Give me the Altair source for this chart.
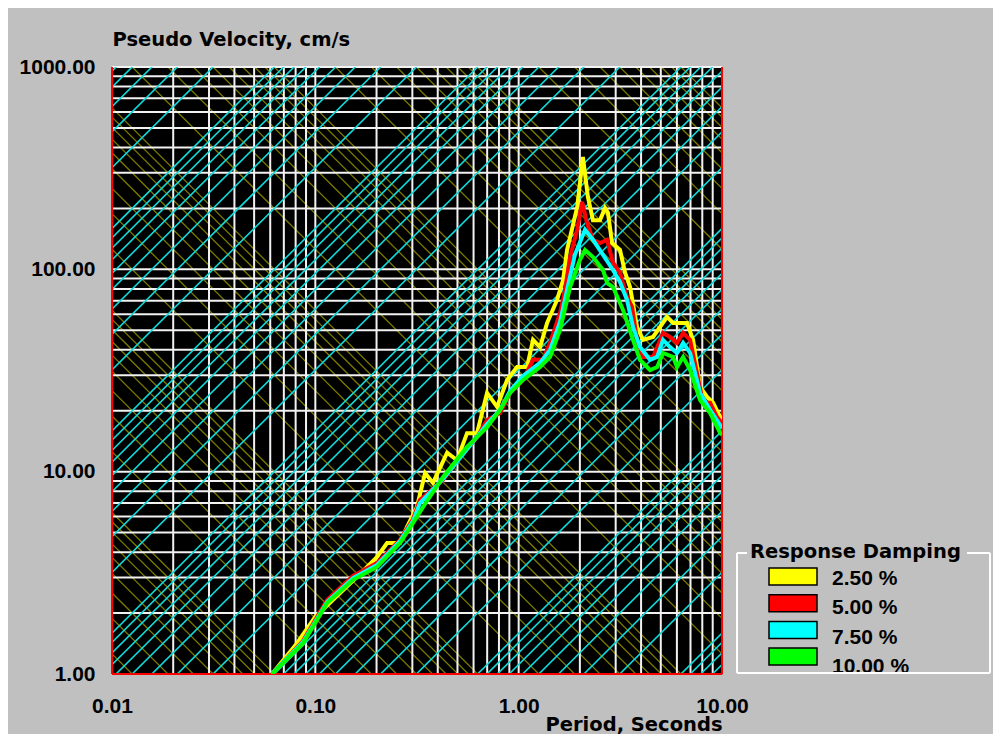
import altair as alt
import pandas as pd

# ---------------- data ----------------
T_25 = [0.0612, 0.0813, 0.0997, 0.1323, 0.1604, 0.2012, 0.2253, 0.261, 0.2825, 0.316,
        0.3465, 0.379, 0.4446, 0.4977, 0.5574, 0.624, 0.699, 0.783, 0.877, 0.982,
        1.10, 1.177, 1.274, 1.38, 1.545, 1.654, 1.73, 1.94, 2.07, 2.19,
        2.32, 2.51, 2.66, 2.75, 2.88, 3.15, 3.34, 3.53, 3.82, 4.09,
        4.58, 5.37, 5.75, 6.22, 6.73, 7.21, 7.80, 8.45, 9.04, 9.80, 10.0]
V_25 = [1.0, 1.42, 1.91, 2.51, 3.02, 3.79, 4.44, 4.44, 5.33, 6.69,
        9.85, 8.80, 12.4, 11.4, 15.5, 15.5, 24.5, 20.9, 28.4, 32.9,
        32.9, 44.8, 41.3, 54.3, 70.6, 88.6, 124.7, 203, 359, 228,
        175, 175, 201, 190, 135, 124.7, 96, 81.8, 51.9, 44.8,
        46.3, 58.2, 54.3, 54.3, 54.3, 44.8, 26.2, 23.4, 21.9, 18.6, 18.0]

T_50 = [0.0612, 0.087, 0.1142, 0.1532, 0.2012, 0.261, 0.3024, 0.327, 0.425, 0.515,
        0.624, 0.699, 0.810, 0.907, 1.051, 1.177, 1.318, 1.427, 1.598, 1.69,
        1.79, 1.94, 2.05, 2.17, 2.32, 2.51, 2.72, 2.91, 3.15, 3.41,
        3.61, 3.82, 4.09, 4.58, 5.13, 5.55, 6.01, 6.44, 6.97, 7.53,
        8.07, 8.74, 9.46, 10.0]
V_50 = [1.0, 1.46, 2.32, 3.05, 3.54, 4.60, 5.84, 7.25, 9.10, 11.8,
        14.8, 18.0, 19.5, 24.5, 28.4, 35.7, 35.7, 43.3, 60.9, 79.1,
        115, 157, 215, 169, 140, 135, 140, 108, 96, 73,
        65.2, 44.8, 36.9, 36.9, 48.5, 46.3, 43.3, 48.5, 44.8, 30.8,
        21.9, 21.9, 18.6, 17.4]

T_75 = [0.0612, 0.087, 0.1142, 0.1532, 0.2012, 0.261, 0.3024, 0.327, 0.425, 0.557,
        0.699, 0.810, 0.907, 1.051, 1.274, 1.427, 1.598, 1.73, 1.89, 2.12,
        2.32, 2.60, 2.91, 3.15, 3.41, 3.65, 3.95, 4.43, 4.80, 5.13,
        5.55, 6.01, 6.44, 6.97, 7.80, 8.74, 10.0]
V_75 = [1.0, 1.44, 2.27, 2.98, 3.46, 4.54, 5.71, 7.0, 9.2, 12.9,
        17.2, 20.2, 25.1, 29.7, 34.5, 40.0, 55.0, 79.1, 118, 157,
        140, 118, 99.3, 86.6, 70.6, 51.9, 41.3, 35.7, 36.9, 44.8,
        41.3, 38.6, 43.3, 38.6, 24.5, 20.2, 16.4]

T_100 = [0.0612, 0.087, 0.1142, 0.1532, 0.2012, 0.261, 0.3024, 0.3387, 0.4249, 0.5574,
         0.699, 0.810, 0.907, 1.051, 1.274, 1.427, 1.598, 1.73, 1.79, 2.0,
         2.12, 2.32, 2.60, 2.72, 2.91, 3.26, 3.65, 3.95, 4.43, 4.80,
         5.13, 5.75, 6.01, 6.44, 6.97, 7.80, 8.74, 9.80, 10.0]
V_100 = [1.0, 1.42, 2.24, 2.92, 3.38, 4.44, 5.58, 6.69, 9.41, 13.25,
         16.6, 20.2, 24.5, 28.4, 32.9, 36.9, 50.2, 70.6, 81.8, 111,
         124.7, 115, 99.3, 85.7, 81.8, 63, 44.8, 35.7, 31.8, 32.9,
         38.6, 36.9, 32.9, 36.9, 31.8, 22.6, 19.5, 15.5, 15.2]

SERIES_LABELS = ["2.50 %", "5.00 %", "7.50 %", "10.00 %"]
SERIES_COLORS = ["#FFFF00", "#FF0000", "#00FFFF", "#00FF00"]
SERIES_T = [T_25, T_50, T_75, T_100]
SERIES_V = [V_25, V_50, V_75, V_100]

X_TICKS = [0.01, 0.1, 1, 10]
Y_TICKS = [1, 10, 100, 1000]
GRID_MULT = [1, 2, 3, 4, 5, 6, 7, 8, 9]
ACC_DECADES = [-1, 0, 1, 2, 3, 4, 5]      # constant-acceleration lines (cm/s^2)
DISP_DECADES = [-4, -3, -2, -1, 0, 1, 2, 3]  # constant-displacement lines (cm)

TWO_PI = 6.283185307

# ---------------- derived tables ----------------
gx = [m * 10 ** d for d in (-2, -1, 0) for m in GRID_MULT if m * 10 ** d != 0.01]
gy = [m * 10 ** d for d in (0, 1, 2) for m in GRID_MULT if m * 10 ** d != 1] + [1000]
grid_x = pd.DataFrame({"gx": gx})
grid_y = pd.DataFrame({"gy": gy})
border_x = pd.DataFrame({"bx": [X_TICKS[0], X_TICKS[-1]]})
border_y = pd.DataFrame({"by": [Y_TICKS[0]]})

T_LO, T_HI = 1e-4, 1e3
acc_rows = []
for d in ACC_DECADES:
    for m in GRID_MULT:
        c = m * 10 ** d / TWO_PI
        acc_rows.append({"t1": T_LO, "v1": c * T_LO, "t2": T_HI, "v2": c * T_HI})
acc_df = pd.DataFrame(acc_rows)

disp_rows = []
for d in DISP_DECADES:
    for m in GRID_MULT:
        c = m * 10 ** d * TWO_PI
        disp_rows.append({"t1": T_LO, "v1": c / T_LO, "t2": T_HI, "v2": c / T_HI})
disp_df = pd.DataFrame(disp_rows)

# ---------------- scales & axes ----------------
xs = alt.Scale(type="log", domain=[X_TICKS[0], X_TICKS[-1]], nice=False)
ys = alt.Scale(type="log", domain=[Y_TICKS[0], Y_TICKS[-1]], nice=False)

X_AXIS = alt.Axis(values=X_TICKS, format=".2f", title="Period, Seconds", grid=False,
                  ticks=False, domain=False, tickSize=0, labelPadding=38,
                  labelBaseline="alphabetic", labelFont="Liberation Sans",
                  labelFontWeight="bold", labelFontSize=21, labelColor="black",
                  labelFlush=False, labelOverlap=False, labelBound=False,
                  titleFont="DejaVu Sans", titleFontWeight="bold", titleFontSize=19.5,
                  titleColor="black", titleX=610, titleY=56, titleAlign="right",
                  titleBaseline="alphabetic")
Y_AXIS = alt.Axis(values=Y_TICKS, format=".2f", title="Pseudo Velocity, cm/s", grid=False,
                  ticks=False, domain=False, tickSize=0, labelPadding=17,
                  labelFont="Liberation Sans", labelFontWeight="bold", labelFontSize=21,
                  labelColor="black", labelFlush=False, labelOverlap=False, labelBound=False,
                  titleFont="DejaVu Sans", titleFontWeight="bold", titleFontSize=19.5,
                  titleColor="black", titleAngle=0, titleX=0, titleY=-22,
                  titleAlign="left", titleBaseline="alphabetic")


def X(f):
    return alt.X(f, type="quantitative", scale=xs, axis=X_AXIS)


def Y(f):
    return alt.Y(f, type="quantitative", scale=ys, axis=Y_AXIS)


layers = []
# olive displacement lines
layers.append(alt.Chart(disp_df).mark_rule(color="#7A7A00", strokeWidth=1.3, clip=True)
              .encode(x=X("t1"), y=Y("v1"), x2="t2", y2="v2"))
# white grid
layers.append(alt.Chart(grid_x).mark_rule(color="#F2F2F2", strokeWidth=2).encode(x=X("gx")))
layers.append(alt.Chart(grid_y).mark_rule(color="#F2F2F2", strokeWidth=2).encode(y=Y("gy")))
# cyan acceleration lines
layers.append(alt.Chart(acc_df).mark_rule(color="#10DADA", strokeWidth=1.6, clip=True)
              .encode(x=X("t1"), y=Y("v1"), x2="t2", y2="v2"))
# red borders
layers.append(alt.Chart(border_x).mark_rule(color="#FF0000", strokeWidth=2).encode(x=X("bx")))
layers.append(alt.Chart(border_y).mark_rule(color="#FF0000", strokeWidth=2).encode(y=Y("by")))

# response curves
for lab, col, tt, vv in zip(SERIES_LABELS, SERIES_COLORS, SERIES_T, SERIES_V):
    assert len(tt) == len(vv)
    df = pd.DataFrame({"T": tt, "V": vv, "i": range(len(tt))})
    layers.append(alt.Chart(df).mark_line(color=col, strokeWidth=4, clip=True,
                                          strokeJoin="miter")
                  .encode(x=X("T"), y=Y("V"), order="i:Q"))

# legend
leg_df = pd.DataFrame({"label": SERIES_LABELS, "color": SERIES_COLORS,
                       "i": range(len(SERIES_LABELS))})
layers.append(alt.Chart(leg_df).mark_rect(stroke="black", strokeWidth=1.5)
              .transform_calculate(y0="501 + 26.7 * datum.i", y1="518 + 26.7 * datum.i")
              .encode(x=alt.value(657), x2=alt.value(705),
                      y=alt.Y("y0:Q", scale=None), y2=alt.Y2("y1:Q"),
                      color=alt.Color("color:N", scale=None)))
layers.append(alt.Chart(leg_df).mark_text(align="left", baseline="alphabetic",
                                          font="Liberation Sans", fontWeight="bold",
                                          fontSize=21, color="black")
              .transform_calculate(yb="518 + 29.3 * datum.i")
              .encode(x=alt.value(720), y=alt.Y("yb:Q", scale=None), text="label:N"))

one = pd.DataFrame({"k": [0]})
FRAME = "#FFFFFF"
layers.append(alt.Chart(one).mark_rule(color=FRAME, strokeWidth=2)
              .encode(x=alt.value(625), y=alt.value(486), y2=alt.value(606)))
layers.append(alt.Chart(one).mark_rule(color=FRAME, strokeWidth=2)
              .encode(x=alt.value(878), y=alt.value(486), y2=alt.value(606)))
layers.append(alt.Chart(one).mark_rule(color=FRAME, strokeWidth=2)
              .encode(x=alt.value(625), x2=alt.value(878), y=alt.value(606)))
layers.append(alt.Chart(one).mark_rule(color=FRAME, strokeWidth=2)
              .encode(x=alt.value(625), x2=alt.value(635), y=alt.value(486)))
layers.append(alt.Chart(one).mark_rule(color=FRAME, strokeWidth=2)
              .encode(x=alt.value(855), x2=alt.value(878), y=alt.value(486)))
layers.append(alt.Chart(one).mark_text(align="left", baseline="alphabetic",
                                       font="DejaVu Sans", fontWeight="bold",
                                       fontSize=19.5, color="black")
              .encode(x=alt.value(638), y=alt.value(491), text=alt.value("Response Damping")))

chart = alt.layer(*layers).properties(
    width=610, height=607,
    autosize=alt.AutoSizeParams(type="none"),
    padding={"left": 104, "top": 59, "right": 271, "bottom": 60},
    background="#C0C0C0",
).configure_view(fill="#000000", stroke="transparent")

chart.save("out.html", embed_options={"renderer": "svg", "actions": False})
